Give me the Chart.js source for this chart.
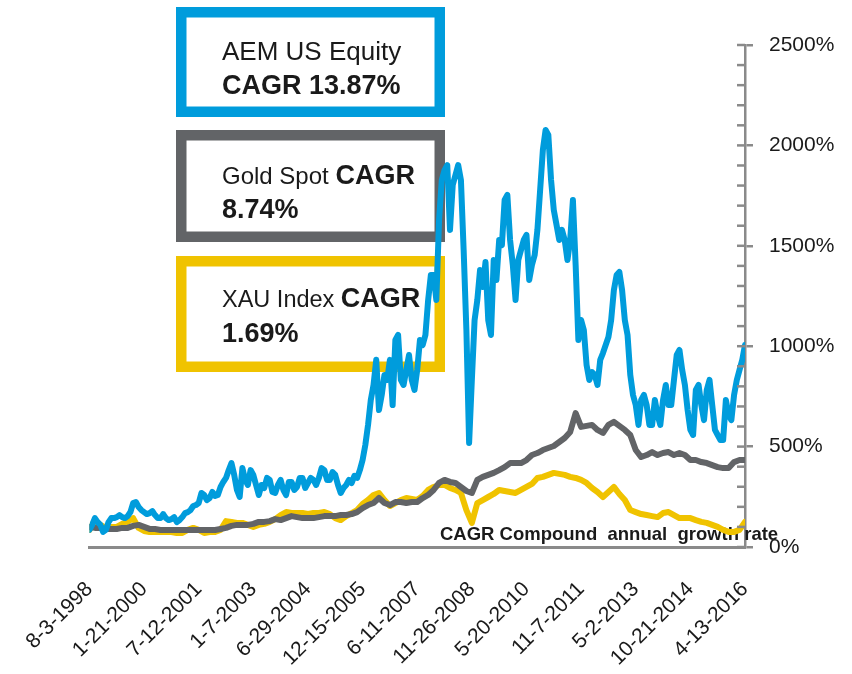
<!DOCTYPE html>
<html>
<head>
<meta charset="utf-8">
<script src="https://cdn.jsdelivr.net/npm/chart.js@4/dist/chart.umd.min.js"></script>
<style>
    html, body { margin: 0; padding: 0; background: #fff; }
    #wrap { width: 852px; height: 674px; }
</style>
</head>
<body>
<div id="wrap"><canvas id="chart" width="852" height="674"></canvas></div>
<script>
"use strict";

// datumsbeschriftungen der x-achse
const dateLabels = ['8-3-1998', '1-21-2000', '7-12-2001', '1-7-2003', '6-29-2004', '12-15-2005',
    '6-11-2007', '11-26-2008', '5-20-2010', '11-7-2011', '5-2-2013', '10-21-2014', '4-13-2016'];

// AEM in % (20 punkte pro beschriftungsabstand)
const aemValues = [
    85, 110, 144, 124, 110, 75, 85, 124, 144, 144, 149, 159, 149, 144, 154, 174, 219, 224, 199, 184,
    174, 164, 169, 179, 159, 144, 144, 164, 144, 134, 139, 149, 124, 134, 149, 169, 174, 184, 204, 209,
    219, 269, 259, 234, 244, 274, 254, 259, 299, 324, 344, 383, 418, 359, 284, 249, 393, 334, 309, 383,
    359, 309, 259, 309, 294, 344, 334, 274, 269, 309, 334, 284, 259, 324, 324, 284, 299, 344, 344, 294,
    319, 344, 334, 309, 344, 393, 383, 334, 334, 373, 359, 309, 269, 294, 309, 334, 319, 354, 344, 383,
    433, 508, 608, 732, 807, 932, 682, 757, 857, 832, 932, 707, 1031, 1056, 832, 807, 882, 956, 832, 782,
    882, 1031, 1006, 1056, 1230, 1355, 1355, 1230, 1629, 1828, 1877, 1902, 1579, 1803, 1853, 1902, 1828, 1479, 1081, 518,
    832, 1130, 1230, 1379, 1295, 1419, 1130, 1056, 1429, 1330, 1529, 1504, 1728, 1753, 1529, 1404, 1230, 1429, 1479, 1529,
    1554, 1330, 1404, 1454, 1579, 1778, 1977, 2077, 2052, 1828, 1678, 1604, 1529, 1579, 1529, 1429, 1529, 1728, 1404, 1031,
    1130, 1081, 906, 832, 871, 857, 807, 932, 966, 1006, 1046, 1130, 1280, 1355, 1370, 1280, 1130, 1056, 857, 757,
    707, 608, 732, 757, 707, 608, 608, 732, 657, 608, 732, 807, 707, 707, 832, 956, 981, 882, 807, 682,
    583, 558, 782, 807, 707, 632, 782, 832, 707, 583, 558, 533, 533, 732, 657, 632, 757, 832, 882, 932,
    1006
];

// gold und XAU in % (10 punkte pro beschriftungsabstand)
const goldValues = [
    100, 95, 95, 90, 90, 90, 95, 95, 105, 110,
    100, 90, 90, 85, 85, 85, 85, 85, 85, 85,
    85, 85, 85, 85, 90, 95, 105, 110, 110, 110,
    115, 125, 125, 129, 139, 134, 144, 154, 149, 144,
    144, 144, 149, 154, 154, 154, 159, 159, 164, 174,
    194, 209, 219, 244, 219, 209, 224, 224, 219, 224,
    224, 244, 259, 284, 319, 334, 324, 319, 299, 279,
    269, 334, 349, 359, 369, 383, 398, 418, 418, 418,
    433, 458, 468, 483, 493, 503, 523, 543, 573, 667,
    598, 603, 608, 583, 568, 608, 623, 603, 583, 558,
    483, 448, 458, 473, 458, 468, 473, 458, 468, 458,
    433, 433, 423, 418, 408, 398, 393, 393, 423, 433,
    433
];

const xauValues = [
    85, 134, 110, 95, 100, 100, 115, 125, 144, 95,
    80, 75, 75, 75, 75, 75, 70, 70, 85, 95,
    85, 70, 75, 75, 85, 129, 125, 120, 120, 110,
    100, 110, 115, 125, 139, 159, 174, 169, 169, 169,
    164, 169, 169, 174, 164, 144, 134, 154, 169, 184,
    214, 234, 259, 269, 234, 204, 219, 234, 244, 239,
    234, 254, 284, 299, 309, 309, 294, 284, 269, 184,
    120, 219, 234, 249, 264, 284, 279, 274, 269, 284,
    299, 314, 344, 349, 359, 369, 364, 359, 349, 344,
    334, 319, 294, 274, 249, 274, 299, 264, 234, 184,
    174, 164, 159, 154, 149, 169, 174, 159, 144, 144,
    144, 134, 125, 120, 110, 100, 85, 75, 75, 85,
    125
];

const colors = {
    aem: '#009cdc',
    gold: '#626467',
    xau: '#f0c300',
    axis: '#8a8a8a',
    text: '#1a1a1a'
};

const fontFamily = '"Liberation Sans", Arial, sans-serif';

document.addEventListener('DOMContentLoaded', init);

// index -> position auf der x-achse (einheit = ein beschriftungsabstand)
function toPoints(values, perLabel) {
    return values.map((v, i) => ({ x: i / perLabel, y: v }));
}

// kästen mit CAGR-text und fußnote, vor den linien gezeichnet
const boxPlugin = {
    id: 'boxes',
    beforeDatasetsDraw(chart) {
        const ctx = chart.ctx;
        ctx.save();

        const boxes = [
            { color: colors.aem, top: 7, bottom: 117 },
            { color: colors.gold, top: 130, bottom: 242 },
            { color: colors.xau, top: 256, bottom: 372 }
        ];
        ctx.lineWidth = 10.5;
        boxes.forEach(b => {
            ctx.strokeStyle = b.color;
            ctx.strokeRect(176 + 5.25, b.top + 5.25, 445 - 176 - 10.5, b.bottom - b.top - 10.5);
        });

        ctx.fillStyle = colors.text;
        ctx.textBaseline = 'alphabetic';
        ctx.textAlign = 'left';

        const regular = size => size + 'px ' + fontFamily;
        const bold = size => 'bold ' + size + 'px ' + fontFamily;

        ctx.font = regular(26);
        ctx.fillText('AEM US Equity', 222, 60);
        ctx.font = bold(27);
        ctx.fillText('CAGR 13.87%', 222, 94);

        ctx.font = regular(24);
        ctx.fillText('Gold Spot', 222, 184);
        let w = ctx.measureText('Gold Spot ').width;
        ctx.font = bold(27);
        ctx.fillText('CAGR', 222 + w, 184);
        ctx.fillText('8.74%', 222, 218);

        ctx.font = regular(23.5);
        ctx.fillText('XAU Index', 222, 307);
        w = ctx.measureText('XAU Index ').width;
        ctx.font = bold(27);
        ctx.fillText('CAGR', 222 + w, 307);
        ctx.fillText('1.69%', 222, 342);

        ctx.font = bold(18.5);
        ctx.fillText('CAGR Compound  annual  growth rate', 440, 540);

        ctx.restore();
    },
    afterDraw(chart) {
        // kleine innere striche an der rechten achse
        const ctx = chart.ctx;
        const yScale = chart.scales.y;
        const right = chart.chartArea.right;
        ctx.save();
        ctx.strokeStyle = colors.axis;
        ctx.lineWidth = 2.5;
        yScale.ticks.forEach(t => {
            const y = yScale.getPixelForValue(t.value);
            ctx.beginPath();
            ctx.moveTo(right - 8, y);
            ctx.lineTo(right, y);
            ctx.stroke();
        });
        ctx.restore();
    }
};

function init() {
    const ctx = document.getElementById('chart').getContext('2d');

    const lineStyle = {
        pointRadius: 0,
        borderWidth: 6,
        tension: 0,
        fill: false,
        borderJoinStyle: 'round',
        borderCapStyle: 'round'
    };

    new Chart(ctx, {
        type: 'line',
        data: {
            datasets: [
                { label: 'AEM US Equity', data: toPoints(aemValues, 20), borderColor: colors.aem, ...lineStyle },
                { label: 'Gold Spot', data: toPoints(goldValues, 10), borderColor: colors.gold, ...lineStyle },
                { label: 'XAU Index', data: toPoints(xauValues, 10), borderColor: colors.xau, ...lineStyle }
            ]
        },
        options: {
            responsive: false,
            animation: false,
            layout: {
                padding: { left: 88, top: 45, right: 0, bottom: 0 }
            },
            plugins: {
                legend: { display: false },
                tooltip: { enabled: false }
            },
            scales: {
                x: {
                    type: 'linear',
                    min: 0,
                    max: dateLabels.length - 1,
                    grid: { display: false, drawTicks: false },
                    border: { display: true, color: colors.axis, width: 3 },
                    ticks: {
                        stepSize: 1,
                        autoSkip: false,
                        minRotation: 45,
                        maxRotation: 45,
                        padding: 30,
                        color: colors.text,
                        font: { family: fontFamily, size: 21 },
                        callback: v => dateLabels[v] ?? ''
                    },
                    afterFit: scale => { scale.height = 127; }
                },
                y: {
                    position: 'right',
                    min: 0,
                    max: 2500,
                    grid: {
                        drawOnChartArea: false,
                        drawTicks: true,
                        tickLength: 8,
                        lineWidth: 2.5,
                        color: c => (c.tick && c.tick.value % 500 === 0) ? colors.axis : 'rgba(0,0,0,0)'
                    },
                    border: { display: true, color: colors.axis, width: 2.5 },
                    ticks: {
                        stepSize: 100,
                        autoSkip: false,
                        padding: 16,
                        color: colors.text,
                        font: { family: fontFamily, size: 21 },
                        callback: v => v % 500 === 0 ? v + '%' : ''
                    },
                    afterFit: scale => { scale.width = 107; }
                }
            }
        },
        plugins: [boxPlugin]
    });
}
</script>
</body>
</html>
